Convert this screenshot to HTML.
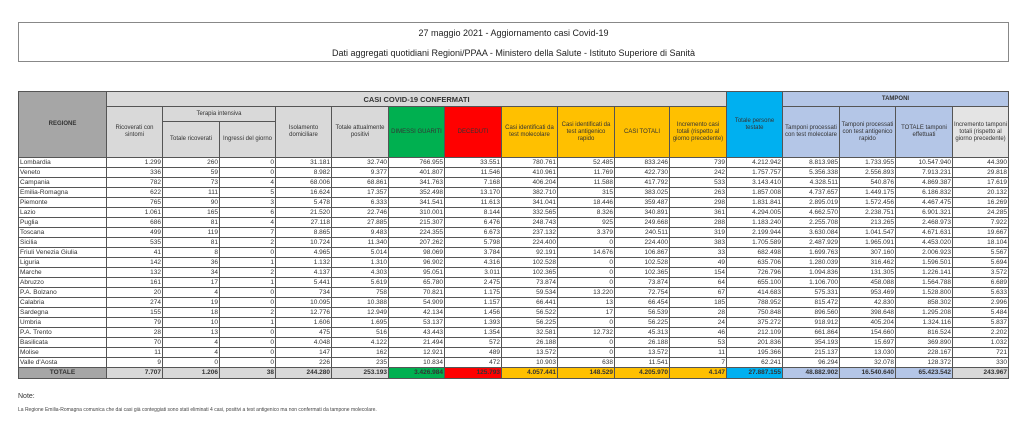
<!DOCTYPE html>
<html><head><meta charset="utf-8"><style>
body{margin:0;width:1024px;height:446px;background:#fff;font-family:"Liberation Sans",sans-serif;position:relative;overflow:hidden}
.tb{position:absolute;left:18px;top:22px;width:991px;height:40px;border:1px solid #888;box-sizing:border-box;text-align:center;font-size:9px;color:#222}
table{position:absolute;left:18px;top:91px;border-collapse:collapse;table-layout:fixed;font-size:6.5px;color:#333}
td{border:1px solid #555;padding:0 1px;height:9px;line-height:8px;text-align:right;white-space:nowrap;overflow:hidden}
td.l{text-align:left}
th{border:1px solid #555;font-weight:normal;font-size:6px;line-height:7px;text-align:center;vertical-align:middle;padding:0}
.g{background:#a6a6a6}.lg{background:#d9d9d9}.gr{background:#00b050}.rd{background:#ff0000}.or{background:#ffc000}.bl{background:#00b0f0}.lb{background:#b4c6e7}
tr.t td{font-weight:bold;height:10px}
</style></head><body>
<div class="tb"><div style="position:absolute;top:5px;width:100%">27 maggio 2021 - Aggiornamento casi Covid-19</div><div style="position:absolute;top:25px;width:100%">Dati aggregati quotidiani Regioni/PPAA - Ministero della Salute - Istituto Superiore di Sanità</div></div>
<table>
<colgroup><col style="width:88px"><col style="width:56px"><col style="width:57px"><col style="width:56px"><col style="width:56px"><col style="width:57px"><col style="width:56px"><col style="width:57px"><col style="width:56px"><col style="width:57px"><col style="width:55px"><col style="width:57px"><col style="width:56px"><col style="width:57px"><col style="width:56px"><col style="width:57px"><col style="width:56px"></colgroup>
<tr style="height:15px"><th rowspan="3" class="g" style="font-weight:bold">REGIONE</th><th colspan="11" class="lg" style="font-weight:bold;font-size:7.5px">CASI COVID-19 CONFERMATI</th><th rowspan="3" class="bl">Totale persone testate</th><th colspan="4" class="lb" style="font-weight:bold">TAMPONI</th></tr>
<tr style="height:15px"><th rowspan="2" class="lg">Ricoverati con sintomi</th><th colspan="2" class="lg">Terapia intensiva</th><th rowspan="2" class="lg">Isolamento domiciliare</th><th rowspan="2" class="lg">Totale attualmente positivi</th><th rowspan="2" class="gr">DIMESSI GUARITI</th><th rowspan="2" class="rd">DECEDUTI</th><th rowspan="2" class="or">Casi identificati da test molecolare</th><th rowspan="2" class="or">Casi identificati da test antigenico rapido</th><th rowspan="2" class="or">CASI TOTALI</th><th rowspan="2" class="or">Incremento casi totali (rispetto al giorno precedente)</th><th rowspan="2" class="lb">Tamponi processati con test molecolare</th><th rowspan="2" class="lb">Tamponi processati con test antigenico rapido</th><th rowspan="2" class="lb">TOTALE tamponi effettuati</th><th rowspan="2" class="lg" style="background:#e4e4e4">Incremento tamponi totali (rispetto al giorno precedente)</th></tr>
<tr style="height:36px"><th class="lg">Totale ricoverati</th><th class="lg">Ingressi del giorno</th></tr>
<tr><td class="l">Lombardia</td><td>1.299</td><td>260</td><td>0</td><td>31.181</td><td>32.740</td><td>766.955</td><td>33.551</td><td>780.761</td><td>52.485</td><td>833.246</td><td>739</td><td>4.212.942</td><td>8.813.985</td><td>1.733.955</td><td>10.547.940</td><td>44.390</td></tr>
<tr><td class="l">Veneto</td><td>336</td><td>59</td><td>0</td><td>8.982</td><td>9.377</td><td>401.807</td><td>11.546</td><td>410.961</td><td>11.769</td><td>422.730</td><td>242</td><td>1.757.757</td><td>5.356.338</td><td>2.556.893</td><td>7.913.231</td><td>29.818</td></tr>
<tr><td class="l">Campania</td><td>782</td><td>73</td><td>4</td><td>68.006</td><td>68.861</td><td>341.763</td><td>7.168</td><td>406.204</td><td>11.588</td><td>417.792</td><td>533</td><td>3.143.410</td><td>4.328.511</td><td>540.876</td><td>4.869.387</td><td>17.619</td></tr>
<tr><td class="l">Emilia-Romagna</td><td>622</td><td>111</td><td>5</td><td>16.624</td><td>17.357</td><td>352.498</td><td>13.170</td><td>382.710</td><td>315</td><td>383.025</td><td>263</td><td>1.857.008</td><td>4.737.657</td><td>1.449.175</td><td>6.186.832</td><td>20.132</td></tr>
<tr><td class="l">Piemonte</td><td>765</td><td>90</td><td>3</td><td>5.478</td><td>6.333</td><td>341.541</td><td>11.613</td><td>341.041</td><td>18.446</td><td>359.487</td><td>298</td><td>1.831.841</td><td>2.895.019</td><td>1.572.456</td><td>4.467.475</td><td>16.269</td></tr>
<tr><td class="l">Lazio</td><td>1.061</td><td>165</td><td>6</td><td>21.520</td><td>22.746</td><td>310.001</td><td>8.144</td><td>332.565</td><td>8.326</td><td>340.891</td><td>361</td><td>4.294.005</td><td>4.662.570</td><td>2.238.751</td><td>6.901.321</td><td>24.285</td></tr>
<tr><td class="l">Puglia</td><td>686</td><td>81</td><td>4</td><td>27.118</td><td>27.885</td><td>215.307</td><td>6.476</td><td>248.743</td><td>925</td><td>249.668</td><td>288</td><td>1.183.240</td><td>2.255.708</td><td>213.265</td><td>2.468.973</td><td>7.922</td></tr>
<tr><td class="l">Toscana</td><td>499</td><td>119</td><td>7</td><td>8.865</td><td>9.483</td><td>224.355</td><td>6.673</td><td>237.132</td><td>3.379</td><td>240.511</td><td>319</td><td>2.199.944</td><td>3.630.084</td><td>1.041.547</td><td>4.671.631</td><td>19.667</td></tr>
<tr><td class="l">Sicilia</td><td>535</td><td>81</td><td>2</td><td>10.724</td><td>11.340</td><td>207.262</td><td>5.798</td><td>224.400</td><td>0</td><td>224.400</td><td>383</td><td>1.705.589</td><td>2.487.929</td><td>1.965.091</td><td>4.453.020</td><td>18.104</td></tr>
<tr><td class="l">Friuli Venezia Giulia</td><td>41</td><td>8</td><td>0</td><td>4.965</td><td>5.014</td><td>98.069</td><td>3.784</td><td>92.191</td><td>14.676</td><td>106.867</td><td>33</td><td>682.498</td><td>1.699.763</td><td>307.160</td><td>2.006.923</td><td>5.567</td></tr>
<tr><td class="l">Liguria</td><td>142</td><td>36</td><td>1</td><td>1.132</td><td>1.310</td><td>96.902</td><td>4.316</td><td>102.528</td><td>0</td><td>102.528</td><td>49</td><td>635.706</td><td>1.280.039</td><td>316.462</td><td>1.596.501</td><td>5.694</td></tr>
<tr><td class="l">Marche</td><td>132</td><td>34</td><td>2</td><td>4.137</td><td>4.303</td><td>95.051</td><td>3.011</td><td>102.365</td><td>0</td><td>102.365</td><td>154</td><td>726.796</td><td>1.094.836</td><td>131.305</td><td>1.226.141</td><td>3.572</td></tr>
<tr><td class="l">Abruzzo</td><td>161</td><td>17</td><td>1</td><td>5.441</td><td>5.619</td><td>65.780</td><td>2.475</td><td>73.874</td><td>0</td><td>73.874</td><td>64</td><td>655.100</td><td>1.106.700</td><td>458.088</td><td>1.564.788</td><td>6.689</td></tr>
<tr><td class="l">P.A. Bolzano</td><td>20</td><td>4</td><td>0</td><td>734</td><td>758</td><td>70.821</td><td>1.175</td><td>59.534</td><td>13.220</td><td>72.754</td><td>67</td><td>414.683</td><td>575.331</td><td>953.469</td><td>1.528.800</td><td>5.633</td></tr>
<tr><td class="l">Calabria</td><td>274</td><td>19</td><td>0</td><td>10.095</td><td>10.388</td><td>54.909</td><td>1.157</td><td>66.441</td><td>13</td><td>66.454</td><td>185</td><td>788.952</td><td>815.472</td><td>42.830</td><td>858.302</td><td>2.996</td></tr>
<tr><td class="l">Sardegna</td><td>155</td><td>18</td><td>2</td><td>12.776</td><td>12.949</td><td>42.134</td><td>1.456</td><td>56.522</td><td>17</td><td>56.539</td><td>28</td><td>750.848</td><td>896.560</td><td>398.648</td><td>1.295.208</td><td>5.484</td></tr>
<tr><td class="l">Umbria</td><td>79</td><td>10</td><td>1</td><td>1.606</td><td>1.695</td><td>53.137</td><td>1.393</td><td>56.225</td><td>0</td><td>56.225</td><td>24</td><td>375.272</td><td>918.912</td><td>405.204</td><td>1.324.116</td><td>5.837</td></tr>
<tr><td class="l">P.A. Trento</td><td>28</td><td>13</td><td>0</td><td>475</td><td>516</td><td>43.443</td><td>1.354</td><td>32.581</td><td>12.732</td><td>45.313</td><td>46</td><td>212.109</td><td>661.864</td><td>154.660</td><td>816.524</td><td>2.202</td></tr>
<tr><td class="l">Basilicata</td><td>70</td><td>4</td><td>0</td><td>4.048</td><td>4.122</td><td>21.494</td><td>572</td><td>26.188</td><td>0</td><td>26.188</td><td>53</td><td>201.836</td><td>354.193</td><td>15.697</td><td>369.890</td><td>1.032</td></tr>
<tr><td class="l">Molise</td><td>11</td><td>4</td><td>0</td><td>147</td><td>162</td><td>12.921</td><td>489</td><td>13.572</td><td>0</td><td>13.572</td><td>11</td><td>195.366</td><td>215.137</td><td>13.030</td><td>228.167</td><td>721</td></tr>
<tr><td class="l">Valle d'Aosta</td><td>9</td><td>0</td><td>0</td><td>226</td><td>235</td><td>10.834</td><td>472</td><td>10.903</td><td>638</td><td>11.541</td><td>7</td><td>62.241</td><td>96.294</td><td>32.078</td><td>128.372</td><td>330</td></tr>
<tr class="t"><td class="g" style="text-align:center">TOTALE</td><td class="lg">7.707</td><td class="lg">1.206</td><td class="lg">38</td><td class="lg">244.280</td><td class="lg">253.193</td><td class="gr">3.426.984</td><td class="rd">125.793</td><td class="or">4.057.441</td><td class="or">148.529</td><td class="or">4.205.970</td><td class="or">4.147</td><td class="bl">27.887.155</td><td class="lb">48.882.902</td><td class="lb">16.540.640</td><td class="lb">65.423.542</td><td class="lg">243.967</td></tr>
</table>
<div style="position:absolute;left:18px;top:393px;font-size:7px;color:#333">Note:</div>
<div style="position:absolute;left:18px;top:407px;font-size:5px;color:#444">La Regione Emilia-Romagna comunica che dai casi già conteggiati sono stati eliminati 4 casi, positivi a test antigenico ma non confermati da tampone molecolare.</div>
</body></html>
